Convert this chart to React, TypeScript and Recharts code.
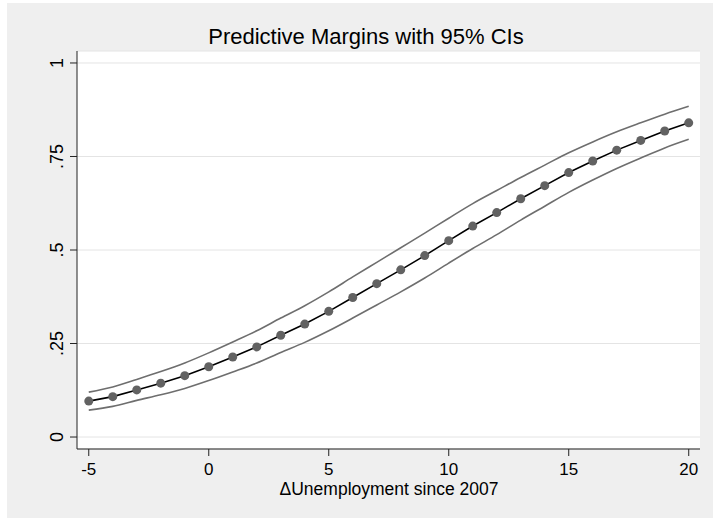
import React from "react";
import {
  ComposedChart,
  Line,
  XAxis,
  YAxis,
  CartesianGrid,
} from "recharts";

// ΔUnemployment since 2007 (x) and predicted margins with 95% CI bounds
const unemploymentChange = [
  -5, -4, -3, -2, -1, 0, 1, 2, 3, 4, 5, 6, 7, 8, 9, 10, 11, 12, 13, 14, 15, 16,
  17, 18, 19, 20,
];
const predictedMargin = [
  0.096, 0.108, 0.126, 0.144, 0.164, 0.188, 0.214, 0.241, 0.272, 0.302, 0.336,
  0.373, 0.41, 0.447, 0.485, 0.525, 0.564, 0.6, 0.637, 0.672, 0.707, 0.738,
  0.767, 0.793, 0.818, 0.84,
];
const upperCI = [
  0.12, 0.134, 0.154, 0.175, 0.198, 0.225, 0.254, 0.284, 0.318, 0.351, 0.388,
  0.428, 0.467, 0.506, 0.545, 0.585, 0.624, 0.659, 0.694, 0.727, 0.76, 0.789,
  0.816, 0.84, 0.863, 0.884,
];
const lowerCI = [
  0.072, 0.082, 0.098, 0.113, 0.13, 0.151, 0.174, 0.198, 0.226, 0.253, 0.284,
  0.318, 0.353, 0.388, 0.425, 0.465, 0.504, 0.541, 0.58, 0.617, 0.654, 0.687,
  0.718, 0.746, 0.773, 0.796,
];
const xTicks = [-5, 0, 5, 10, 15, 20];
const yTicks = [0, 0.25, 0.5, 0.75, 1];
const yTickLabels = ["0", ".25", ".5", ".75", "1"];

const data = unemploymentChange.map((x, i) => ({
  x,
  margin: predictedMargin[i],
  upper: upperCI[i],
  lower: lowerCI[i],
}));

const FONT = "'Liberation Sans', Arial, Helvetica, sans-serif";
const W = 713;
const H = 518;

function XTick({ x, y, payload }: any) {
  return (
    <text x={x} y={y + 19} textAnchor="middle" fontSize={17} fontFamily={FONT} fill="#000">
      {payload.value}
    </text>
  );
}

function YTick({ x, y, payload }: any) {
  const idx = yTicks.indexOf(payload.value);
  const tx = x - 7;
  return (
    <text
      x={tx}
      y={y}
      transform={`rotate(-90 ${tx} ${y})`}
      textAnchor="middle"
      fontSize={18}
      fontFamily={FONT}
      fill="#000"
    >
      {idx >= 0 ? yTickLabels[idx] : payload.value}
    </text>
  );
}

export default function App() {
  return (
    <div style={{ position: "relative", width: W, height: H, background: "#fff", overflow: "hidden" }}>
      <style>{`body{margin:0}`}</style>
      <div style={{ position: "absolute", left: 7, top: 3, right: 0, bottom: 0, background: "#efefef" }} />
      <div style={{ position: "absolute", left: 0, top: 0 }}>
        <ComposedChart
          width={W}
          height={H}
          data={data}
          margin={{ top: 51, right: 13, left: 0, bottom: 0 }}
        >
          <CartesianGrid vertical={false} stroke="#e4e4e4" fill="#fff" />
          <XAxis
            dataKey="x"
            type="number"
            domain={[-5.49, 20.47]}
            ticks={xTicks}
            height={69}
            tickSize={7}
            tickMargin={0}
            tick={<XTick />}
            axisLine={{ stroke: "#222" }}
            tickLine={{ stroke: "#222" }}
            interval={0}
          />
          <YAxis
            type="number"
            domain={[-0.032, 1.032]}
            ticks={yTicks}
            width={77}
            tickSize={7}
            tickMargin={0}
            tick={<YTick />}
            axisLine={{ stroke: "#222" }}
            tickLine={{ stroke: "#222" }}
            interval={0}
          />
          <Line
            dataKey="upper"
            type="monotone"
            stroke="#6e6e6e"
            strokeWidth={1.6}
            dot={false}
            activeDot={false}
            isAnimationActive={false}
          />
          <Line
            dataKey="lower"
            type="monotone"
            stroke="#6e6e6e"
            strokeWidth={1.6}
            dot={false}
            activeDot={false}
            isAnimationActive={false}
          />
          <Line
            dataKey="margin"
            type="linear"
            stroke="#000"
            strokeWidth={1.6}
            dot={{ r: 4.5, fill: "#626262", stroke: "none" }}
            activeDot={false}
            isAnimationActive={false}
          />
        </ComposedChart>
      </div>
      <svg
        width={W}
        height={H}
        style={{ position: "absolute", left: 0, top: 0, pointerEvents: "none" }}
      >
        <text x={366} y={44} textAnchor="middle" fontSize={22} fontFamily={FONT} fill="#000">
          Predictive Margins with 95% CIs
        </text>
        <text x={389} y={495} textAnchor="middle" fontSize={17.5} fontFamily={FONT} fill="#000">
          ΔUnemployment since 2007
        </text>
      </svg>
    </div>
  );
}
